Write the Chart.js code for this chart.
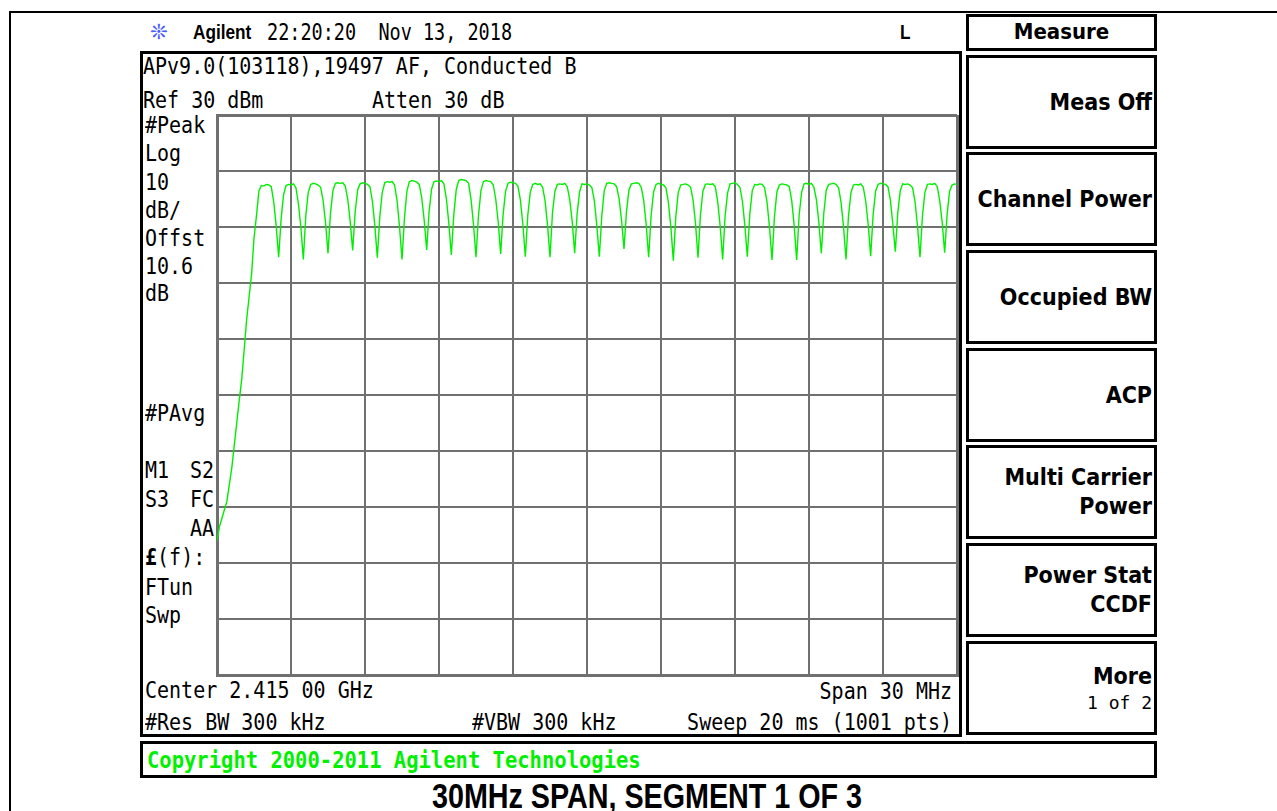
<!DOCTYPE html>
<html>
<head>
<meta charset="utf-8">
<script src="https://cdn.jsdelivr.net/npm/chart.js@4.4.0/dist/chart.umd.min.js"></script>
<style>
  body { margin: 0; width: 1277px; height: 811px; background: #fff; position: relative; overflow: hidden; }
  .ln { position: absolute; background: #000; }
  .box { position: absolute; border: 3px solid #000; box-sizing: border-box; }
  .t { position: absolute; font-family: 'DejaVu Sans Mono', monospace; font-size: 20px; line-height: 24px;
       white-space: pre; color: #000; transform: scaleY(1.12); }
  .r { text-align: right; }
  .narrow { position: absolute; font-family: 'Liberation Sans', Arial, sans-serif; font-weight: bold; white-space: pre; }
  .sk { position: absolute; left: 966px; width: 191px; height: 94px; border: 3px solid #000; box-sizing: border-box;
        display: flex; flex-direction: column; justify-content: center; align-items: flex-end; padding-right: 2px;
        font-family: 'DejaVu Sans Condensed', 'DejaVu Sans', sans-serif; font-weight: bold; font-size: 23px; line-height: 29px; }
  .sk .sub { font-family: 'DejaVu Sans Mono', monospace; font-weight: normal; font-size: 18px; line-height: 24px; }
  #chart { position: absolute; left: 0; top: 0; z-index: 2; }
</style>
</head>
<body>
<!-- outer frame -->
<div class="ln" style="left:9px;top:11px;width:1268px;height:2px"></div>
<div class="ln" style="left:9px;top:11px;width:2px;height:800px"></div>

<!-- header -->
<div style="position:absolute;left:150px;top:18px;font-family:'DejaVu Sans';font-size:21px;line-height:28px;color:#4a5cff">❊</div>
<div class="narrow" style="left:193px;top:18px;font-size:21px;line-height:28px;transform:scaleX(0.82);transform-origin:0 50%">Agilent</div>
<div class="t" style="left:267px;top:20px;font-size:18.5px;transform:scaleY(1.25)">22:20:20  Nov 13, 2018</div>
<div class="narrow" style="left:900px;top:18px;font-size:21px;line-height:28px;transform:scaleX(0.82);transform-origin:0 50%">L</div>

<!-- instrument screen -->
<div class="box" style="left:140px;top:51px;width:822px;height:686px"></div>
<div class="t" style="left:143px;top:54px">APv9.0(103118),19497 AF, Conducted B</div>
<div class="t" style="left:143px;top:88px">Ref 30 dBm</div>
<div class="t" style="left:372px;top:88px">Atten 30 dB</div>

<div class="t" style="left:145px;top:113px">#Peak</div>
<div class="t" style="left:145px;top:141px">Log</div>
<div class="t" style="left:145px;top:170px">10</div>
<div class="t" style="left:145px;top:198px">dB/</div>
<div class="t" style="left:145px;top:226px">Offst</div>
<div class="t" style="left:145px;top:254px">10.6</div>
<div class="t" style="left:145px;top:281px">dB</div>
<div class="t" style="left:145px;top:401px">#PAvg</div>
<div class="t" style="left:145px;top:458px">M1</div>
<div class="t r" style="left:170px;width:44px;top:458px">S2</div>
<div class="t" style="left:145px;top:487px">S3</div>
<div class="t r" style="left:170px;width:44px;top:487px">FC</div>
<div class="t r" style="left:170px;width:44px;top:516px">AA</div>
<div class="t" style="left:145px;top:545px"><b>£</b>(f):</div>
<div class="t" style="left:145px;top:575px">FTun</div>
<div class="t" style="left:145px;top:603px">Swp</div>

<div class="t" style="left:145px;top:678px">Center 2.415 00 GHz</div>
<div class="t r" style="left:650px;width:302px;top:679px">Span 30 MHz</div>
<div class="t" style="left:145px;top:710px">#Res BW 300 kHz</div>
<div class="t" style="left:472px;top:710px">#VBW 300 kHz</div>
<div class="t r" style="left:650px;width:302px;top:710px">Sweep 20 ms (1001 pts)</div>

<!-- copyright bar -->
<div class="box" style="left:140px;top:741px;width:1017px;height:37px"></div>
<div class="t" style="left:147px;top:748px;font-weight:bold;font-size:20.5px;color:#00f000">Copyright 2000-2011 Agilent Technologies</div>

<!-- softkeys -->
<div class="box" style="left:966px;top:14px;width:191px;height:37px;text-align:center;font-family:'DejaVu Sans Condensed','DejaVu Sans',sans-serif;font-weight:bold;font-size:22px;line-height:30px">Measure</div>
<div class="sk" style="top:55px">Meas Off</div>
<div class="sk" style="top:152px">Channel Power</div>
<div class="sk" style="top:250px">Occupied BW</div>
<div class="sk" style="top:348px">ACP</div>
<div class="sk" style="top:445px"><span>Multi Carrier</span><span>Power</span></div>
<div class="sk" style="top:543px"><span>Power Stat</span><span>CCDF</span></div>
<div class="sk" style="top:641px"><span>More</span><span class="sub">1 of 2</span></div>

<!-- caption -->
<div class="narrow" style="left:347px;width:600px;top:776px;text-align:center;font-size:35px;line-height:40px;transform:scaleX(0.82);transform-origin:50% 50%">30MHz SPAN, SEGMENT 1 OF 3</div>

<canvas id="chart" width="1277" height="811"></canvas>

<script>
// sweep: 2.400 - 2.430 GHz, trace read every 0.1 MHz
var sweepStartMHz = 2400;
var sweepStepMHz = 0.1;
var freqAxisMHz = [2400, 2430];
var levelAxisDbm = [-70, 30];

var levelDbm = [
  -46.0, -43.5, -42.0, -40.5, -39.0, -36.0, -33.0, -29.0, -25.0, -21.0, -17.3, -12.0, -6.6, -2.5, 1.5, 8.0,
  12.0, 16.5, 17.4, 17.3, 17.6, 17.5, 17.2, 14.5, 10.2, 4.6,
  11.5, 15.8, 17.4, 17.6, 17.5, 17.7, 17.0, 14.2, 10.0, 4.2,
  12.0, 16.2, 17.6, 17.8, 17.7, 17.5, 17.1, 14.8, 10.8, 5.3,
  12.4, 16.5, 17.8, 17.9, 17.8, 17.9, 17.3, 15.0, 11.0, 5.8,
  12.6, 16.6, 17.7, 17.9, 17.8, 17.6, 17.2, 14.6, 10.2, 4.5,
  11.8, 16.2, 17.9, 18.1, 18.0, 18.1, 17.5, 14.7, 10.0, 4.2,
  11.6, 16.4, 18.1, 18.3, 18.2, 18.0, 17.6, 15.2, 11.2, 5.9,
  12.8, 16.8, 18.1, 18.2, 18.1, 18.3, 17.7, 15.0, 10.6, 5.0,
  12.2, 16.7, 18.3, 18.5, 18.4, 18.3, 17.8, 14.9, 10.4, 4.6,
  12.0, 16.5, 18.1, 18.3, 18.2, 18.1, 17.5, 15.0, 10.9, 5.2,
  12.3, 16.4, 17.8, 18.0, 17.9, 17.8, 17.3, 14.8, 10.5, 4.7,
  12.1, 16.2, 17.6, 17.8, 17.6, 17.7, 17.1, 14.7, 10.3, 4.6,
  12.5, 16.4, 17.6, 17.7, 17.6, 17.8, 17.2, 14.9, 11.0, 5.3,
  12.4, 16.3, 17.7, 17.6, 17.7, 17.5, 17.0, 14.6, 10.2, 4.7,
  12.0, 16.5, 17.8, 17.9, 17.8, 17.7, 17.2, 15.1, 11.2, 6.1,
  12.7, 16.6, 17.7, 17.8, 17.9, 17.8, 17.1, 14.7, 10.4, 4.6,
  12.1, 16.3, 17.6, 17.8, 17.6, 17.5, 17.0, 14.4, 10.0, 4.0,
  11.8, 16.2, 17.5, 17.6, 17.7, 17.5, 17.1, 14.8, 10.6, 4.5,
  12.2, 16.4, 17.6, 17.7, 17.6, 17.7, 17.2, 14.5, 10.1, 4.2,
  12.0, 16.1, 17.7, 17.8, 17.9, 17.6, 17.1, 14.6, 10.3, 4.7,
  12.3, 16.5, 17.6, 17.5, 17.7, 17.6, 17.0, 14.4, 9.9, 4.1,
  11.9, 16.3, 17.5, 17.7, 17.6, 17.5, 17.2, 14.7, 10.2, 4.1,
  12.1, 16.2, 17.7, 17.8, 17.6, 17.8, 17.1, 14.9, 10.8, 5.3,
  12.5, 16.6, 17.6, 17.7, 17.8, 17.6, 17.0, 14.4, 10.0, 4.2,
  11.9, 16.1, 17.5, 17.6, 17.5, 17.7, 17.1, 14.6, 10.4, 4.8,
  12.2, 16.4, 17.6, 17.8, 17.7, 17.6, 17.2, 14.8, 10.5, 5.6,
  12.6, 16.5, 17.7, 17.6, 17.7, 17.5, 17.0, 14.5, 10.1, 4.6,
  12.0, 16.2, 17.6, 17.7, 17.6, 17.8, 17.2, 14.7, 10.8, 5.4,
  12.3, 16.4, 17.5, 17.7, 17.6
];

var points = levelDbm.map(function (v, i) {
  return { x: sweepStartMHz + i * sweepStepMHz, y: v };
});

var gridColor = '#707070';
var edgeWidth = function (ctx) { return (ctx.index === 0 || ctx.index === 10) ? 3 : 2; };

var chart = new Chart(document.getElementById('chart'), {
  type: 'line',
  data: {
    datasets: [{
      data: points,
      borderColor: '#00ee00',
      borderWidth: 1.4,
      pointRadius: 0,
      fill: false,
      tension: 0
    }]
  },
  options: {
    responsive: false,
    animation: false,
    devicePixelRatio: 1,
    layout: { padding: { left: 217, top: 115, right: 320, bottom: 136 } },
    plugins: { legend: { display: false }, tooltip: { enabled: false } },
    scales: {
      x: {
        type: 'linear',
        min: freqAxisMHz[0],
        max: freqAxisMHz[1],
        ticks: { display: false, stepSize: 3 },
        grid: { color: gridColor, lineWidth: edgeWidth, drawTicks: false },
        border: { color: gridColor, width: 3 }
      },
      y: {
        type: 'linear',
        min: levelAxisDbm[0],
        max: levelAxisDbm[1],
        ticks: { display: false, stepSize: 10 },
        grid: { color: gridColor, lineWidth: edgeWidth, drawTicks: false },
        border: { color: gridColor, width: 3 }
      }
    }
  }
});
</script>
</body>
</html>
